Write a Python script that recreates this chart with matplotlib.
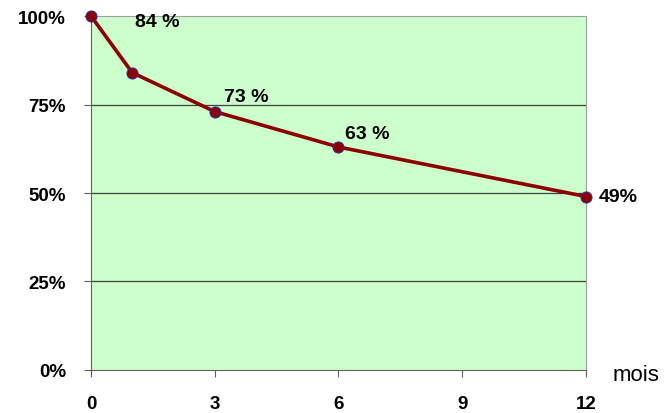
import matplotlib.pyplot as plt

plt.rcParams['font.family'] = ['Liberation Sans', 'DejaVu Sans']

# Courbe de survie en fonction du temps (mois)
mois = [0, 1, 3, 6, 12]
survie = [100, 84, 73, 63, 49]
etiquettes = ['', '84 %', '73 %', '63 %', '49%']
yticks = [0, 25, 50, 75, 100]
xticks = [0, 3, 6, 9, 12]

fig = plt.figure(figsize=(6.68, 4.14), dpi=100)
ax = fig.add_axes([0.1362, 0.1039, 0.741, 0.855])
ax.set_facecolor('#ccffcc')

ax.set_xlim(0, 12)
ax.set_ylim(0, 100)

for y in [25, 50, 75]:
    ax.axhline(y, color='#404040', linewidth=0.9, zorder=1)

ax.plot(mois, survie, color='#8b0000', linewidth=2.6, marker='o', markersize=8,
        markerfacecolor='#8b0000', markeredgecolor='#3030a0', markeredgewidth=0.7,
        zorder=3, clip_on=False)

# décalage des étiquettes (points)
decalages = [(0, 0), (18, 37), (23, 11), (21, 10), (9, 0)]
for xv, yv, lab, (dx, dy) in zip(mois, survie, etiquettes, decalages):
    if not lab:
        continue
    ha = 'left' if xv == 12 else 'center'
    ax.annotate(lab, (xv, yv), xytext=(dx, dy), textcoords='offset points',
                fontsize=14, fontweight='bold', ha=ha, va='center',
                annotation_clip=False)

for s in ['top', 'right']:
    ax.spines[s].set_color('#a0a0a0')
ax.spines['left'].set_color('#606060')
ax.spines['bottom'].set_color('#606060')

ax.set_xticks(xticks)
ax.set_yticks(yticks)
ax.set_yticklabels([f'{v}%' for v in yticks])
ax.tick_params(axis='x', direction='out', length=5, pad=13, labelsize=13.5,
               color='#606060')
ax.tick_params(axis='y', direction='out', length=5, pad=13, labelsize=13.5,
               color='#606060')
for lab in ax.get_xticklabels() + ax.get_yticklabels():
    lab.set_fontweight('bold')

fig.text(0.952, 0.092, 'mois', fontsize=16, ha='center', va='center')

fig.savefig('out.png', dpi=100)
